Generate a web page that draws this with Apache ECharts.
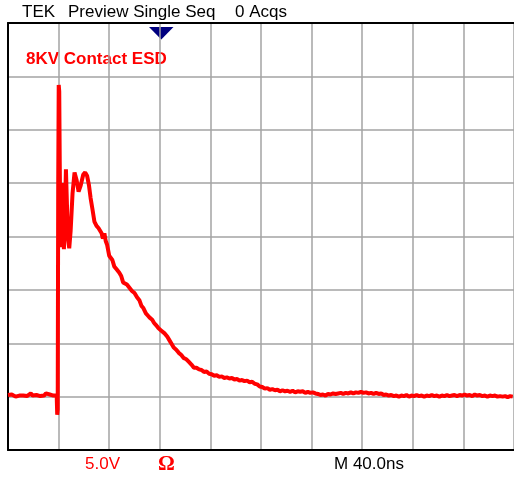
<!DOCTYPE html>
<html>
<head>
<meta charset="utf-8">
<script src="https://cdn.jsdelivr.net/npm/echarts@6/dist/echarts.min.js"></script>
<style>
  body { margin: 0; background: #fff; }
  #scope { width: 514px; height: 477px; }
</style>
</head>
<body>
<div id="scope"></div>
<script>
  // time in ns (40 ns/div), amplitude in V (5 V/div)
  const preTrigger = [
    [0, 0.15], [1.5, 0.05], [3, 0.2], [4.5, 0.1], [6, 0.0], [7.5, 0.15], [9, 0.1], [10.5, 0.25],
    [12, 0.1], [13.5, 0.2], [15, 0.05], [16.5, 0.15], [18, 0.3], [19.5, 0.1], [21, 0.2], [22.5, 0.15],
    [24, 0.25], [25.5, 0.05], [27, 0.2], [28.5, 0.1], [30, 0.3], [31.5, 0.15], [33, 0.2], [34.5, 0.35],
    [36, 0.1], [37.5, 0.2], [38.5, 0.1]
  ];
  const pulse = [
    [38.9, -1.7], [39.3, -1.2], [39.7, 20], [40.1, 29.2], [40.5, 28.6], [40.9, 22], [41.5, 14.0],
    [42.2, 16], [43.0, 20.0], [43.6, 17], [44.2, 13.8], [45.0, 17], [45.8, 21.3], [46.6, 18],
    [47.4, 14.8], [48.4, 13.9], [49.5, 15.5], [51, 19], [52.6, 21.0], [54.2, 20.3], [55.8, 19.2],
    [57.5, 19.8], [59.5, 20.8], [61, 21.0], [62.5, 20.7], [64, 19.8], [65.3, 18.6], [66.7, 17.6],
    [68.3, 16.4], [70, 16.0], [71.5, 15.8], [73, 15.7], [74, 15.3], [75, 14.8], [76.2, 15.3],
    [77.2, 14.6], [78.4, 14.2], [80, 13.2], [81.5, 13.1], [82.5, 12.8], [84, 12.2]
  ];
  const decay = [
    [86, 11.9], [88, 11.6], [89.5, 11.3], [91, 10.7], [92.5, 10.8], [94, 10.5], [96, 10.2], [98, 9.9],
    [100, 9.7], [102, 9.3], [104, 9.0], [105.5, 8.5], [107, 8.3], [109, 7.8], [110.5, 7.6], [112, 7.4],
    [114, 7.2], [115.5, 6.9], [117, 6.7], [119, 6.4], [121, 6.2], [122.5, 6.1], [124, 5.9], [126, 5.6],
    [128, 5.2], [129.5, 4.9], [131, 4.6], [133, 4.4], [135, 4.1], [137, 3.9], [139, 3.6], [141, 3.5],
    [143, 3.25], [145, 3.0], [147, 2.7], [149, 2.7], [151, 2.55], [153, 2.5], [155, 2.3], [157, 2.35],
    [159, 2.15], [161, 2.1], [163, 1.95], [165, 2.0], [167, 1.85], [169, 1.9], [171, 1.75], [173, 1.8],
    [175, 1.7], [177, 1.75], [179, 1.6], [181, 1.65], [183, 1.5], [185, 1.55], [187, 1.45], [189, 1.5],
    [191, 1.35], [193, 1.4], [195, 1.2], [197, 1.15], [199, 0.95], [201, 0.9], [203, 0.75], [205, 0.8],
    [207, 0.65], [209, 0.7], [211, 0.6], [213, 0.65], [215, 0.5], [217, 0.6], [219, 0.5], [221, 0.55],
    [223, 0.45], [225, 0.55], [227, 0.4], [229, 0.5], [231, 0.45], [233, 0.5], [235, 0.35], [237, 0.45],
    [239, 0.35], [241, 0.4], [243, 0.3], [245, 0.25], [247, 0.15], [249, 0.2], [251, 0.1], [253, 0.25]
  ];
  const tail = [
    [255, 0.2], [257, 0.3], [259, 0.25], [261, 0.3], [263, 0.35], [265, 0.25], [267, 0.35], [269, 0.3],
    [271, 0.4], [273, 0.3], [275, 0.4], [277, 0.35], [279, 0.45], [281, 0.35], [283, 0.4], [285, 0.3],
    [287, 0.35], [289, 0.25], [291, 0.35], [293, 0.25], [295, 0.3], [297, 0.15], [299, 0.2], [301, 0.1],
    [303, 0.15], [305, 0.05], [307, 0.1], [309, 0.0], [311, 0.1], [313, 0.05], [315, 0.15], [317, 0.0],
    [319, 0.1], [321, 0.05], [323, 0.15], [325, 0.05], [327, 0.1], [329, 0.0], [331, 0.1], [333, 0.05],
    [335, 0.15], [337, 0.05], [339, 0.1], [341, 0.0], [343, 0.1], [345, 0.05], [347, 0.15], [349, 0.05],
    [351, 0.1], [353, 0.15], [355, 0.05], [357, 0.15], [359, 0.1], [361, 0.2], [363, 0.1], [365, 0.15],
    [367, 0.05], [369, 0.2], [371, 0.1], [373, 0.15], [375, 0.05], [377, 0.1], [379, 0.0], [381, 0.1],
    [383, 0.05], [385, 0.1], [387, 0.0], [389, 0.05], [391, 0.0], [393, 0.05], [395, -0.05], [397, 0.05],
    [399, 0.0]
  ];
  const trace = preTrigger.concat(pulse, decay, tail);

  const chart = echarts.init(document.getElementById('scope'));
  const gridLine = { show: true, lineStyle: { color: '#a3a3a3', width: 1.5 } };
  const frame = { show: true, onZero: false, lineStyle: { color: '#000', width: 2 } };
  const sans = 'Arial, "Liberation Sans", sans-serif';

  chart.setOption({
    animation: false,
    backgroundColor: '#fff',
    grid: { left: 8, top: 23, width: 508, height: 427 },
    xAxis: [
      {
        type: 'value', min: 0, max: 400, interval: 40,
        axisLine: frame,
        axisTick: { show: false }, axisLabel: { show: false },
        splitLine: gridLine
      },
      {
        type: 'value', position: 'top', min: 0, max: 400, interval: 40,
        axisLine: frame,
        axisTick: { show: false }, axisLabel: { show: false }, splitLine: { show: false }
      }
    ],
    yAxis: {
      type: 'value', min: -5, max: 35, interval: 5,
      axisLine: frame,
      axisTick: { show: false }, axisLabel: { show: false },
      splitLine: gridLine
    },
    series: [{
      type: 'line',
      data: trace,
      showSymbol: false,
      lineStyle: { color: '#ff0000', width: 4 },
      itemStyle: { color: '#ff0000' }
    }],
    graphic: [
      { type: 'text', left: 22, top: 4, style: { text: 'TEK', font: '17px ' + sans, fill: '#000' } },
      { type: 'text', left: 68, top: 4, style: { text: 'Preview Single Seq', font: '17px ' + sans, fill: '#000' } },
      { type: 'text', left: 235, top: 4, style: { text: '0 Acqs', font: '17px ' + sans, fill: '#000' } },
      { type: 'text', left: 26, top: 51, style: { text: '8KV Contact ESD', font: 'bold 17px ' + sans, fill: '#ff0000' } },
      { type: 'text', left: 85, top: 456, style: { text: '5.0V', font: '17px ' + sans, fill: '#ff0000' } },
      { type: 'text', left: 158, top: 454, style: { text: 'Ω', font: 'bold 21px "Liberation Serif", "Times New Roman", serif', fill: '#ff0000' } },
      { type: 'text', left: 334, top: 456, style: { text: 'M 40.0ns', font: '17px ' + sans, fill: '#000' } },
      { type: 'polygon', shape: { points: [[149, 27], [173.5, 27], [161.3, 39.5]] }, style: { fill: '#00007f' } }
    ]
  });
</script>
</body>
</html>
